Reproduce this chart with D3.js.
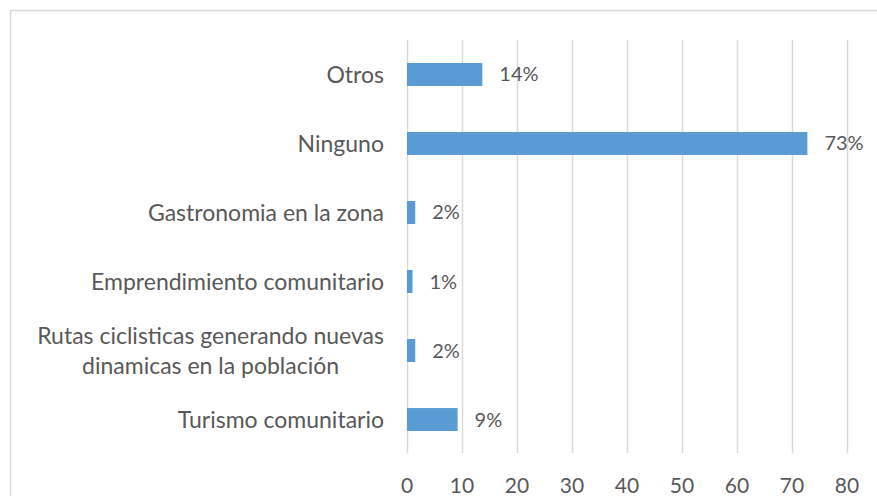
<!DOCTYPE html>
<html>
<head>
<meta charset="utf-8">
<script src="https://cdn.jsdelivr.net/npm/d3@7"></script>
<style>
  body { margin: 0; background: #fff; }
  text { font-family: Lato, "Open Sans", sans-serif; fill: #595959; }
</style>
</head>
<body>
<div id="chart"></div>
<script>
// categories top to bottom, values in percent, labels as printed
var categories = [
  "Otros",
  "Ninguno",
  "Gastronomia en la zona",
  "Emprendimiento comunitario",
  "Rutas ciclisticas generando nuevas dinamicas en la población",
  "Turismo comunitario"
];
var values = [13.7, 72.8, 1.5, 1.0, 1.5, 9.2];
var valueLabels = ["14%", "73%", "2%", "1%", "2%", "9%"];
var xTicks = [0, 10, 20, 30, 40, 50, 60, 70, 80];

var W = 877, H = 496;
var plot = { left: 407, right: 847, top: 40, bottom: 454 };

var svg = d3.select("#chart").append("svg")
  .attr("width", W)
  .attr("height", H);

// chart frame
svg.append("rect")
  .attr("x", 10.5).attr("y", 10.5)
  .attr("width", 900).attr("height", 600)
  .attr("fill", "none")
  .attr("stroke", "#d9d9d9")
  .attr("stroke-width", 1.5);

var x = d3.scaleLinear().domain([0, 80]).range([plot.left, plot.right]);
var y = d3.scaleBand()
  .domain(categories)
  .range([plot.top, plot.bottom])
  .paddingInner(0.667)
  .paddingOuter(0.333);

// gridlines
svg.append("g")
  .selectAll("line")
  .data(xTicks)
  .enter()
  .append("line")
  .attr("x1", (d) => Math.round(x(d)) + 0.5)
  .attr("x2", (d) => Math.round(x(d)) + 0.5)
  .attr("y1", plot.top)
  .attr("y2", plot.bottom - 1)
  .attr("stroke", "#d9d9d9")
  .attr("stroke-width", 1.5);

// x tick labels
svg.append("g")
  .selectAll("text")
  .data(xTicks)
  .enter()
  .append("text")
  .attr("x", (d) => x(d))
  .attr("y", 493)
  .attr("text-anchor", "middle")
  .style("font-size", "21px")
  .text((d) => d);

// bars
svg.append("g")
  .selectAll("rect")
  .data(values)
  .enter()
  .append("rect")
  .attr("x", x(0))
  .attr("y", (d, i) => y(categories[i]))
  .attr("width", (d) => x(d) - x(0))
  .attr("height", y.bandwidth())
  .attr("fill", "#5b9bd5");

// value labels
svg.append("g")
  .selectAll("text")
  .data(values)
  .enter()
  .append("text")
  .attr("x", (d) => x(d) + 17)
  .attr("y", (d, i) => y(categories[i]) + y.bandwidth() / 2)
  .attr("dy", "0.35em")
  .style("font-size", "20px")
  .text((d, i) => valueLabels[i]);

// category labels, wrapped like Excel (block right aligned, lines centred)
var labelRight = 384, maxLabelWidth = 365, lineHeight = 30, labelSize = "23px";
categories.forEach(function (cat) {
  var g = svg.append("g");
  var words = cat.split(" ");
  var lines = [], line = [];
  var probe = g.append("text").style("font-size", labelSize);
  words.forEach(function (w) {
    line.push(w);
    probe.text(line.join(" "));
    if (probe.node().getComputedTextLength() > maxLabelWidth && line.length > 1) {
      line.pop();
      lines.push(line.join(" "));
      line = [w];
    }
  });
  lines.push(line.join(" "));
  var widths = lines.map(function (l) {
    probe.text(l);
    return probe.node().getComputedTextLength();
  });
  probe.remove();
  var blockW = d3.max(widths);
  var cy = y(cat) + y.bandwidth() / 2;
  lines.forEach(function (l, i) {
    g.append("text")
      .attr("x", lines.length > 1 ? labelRight - blockW / 2 : labelRight)
      .attr("y", cy + (i - (lines.length - 1) / 2) * lineHeight)
      .attr("dy", "0.35em")
      .attr("text-anchor", lines.length > 1 ? "middle" : "end")
      .style("font-size", labelSize)
      .text(l);
  });
});
</script>
</body>
</html>
